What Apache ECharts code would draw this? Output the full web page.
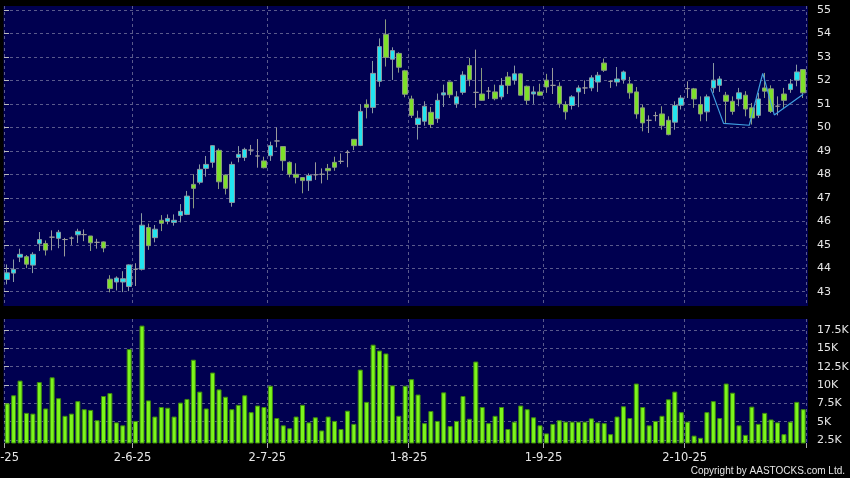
<!DOCTYPE html>
<html><head><meta charset="utf-8">
<script src="https://cdn.jsdelivr.net/npm/echarts@6/dist/echarts.min.js"></script>
<style>html,body{margin:0;padding:0;background:#000;}#c{width:850px;height:478px;}</style>
</head><body><div id="c"></div>
<script>
const dates = [
'2-5-25','6-5-25','7-5-25','8-5-25','9-5-25','12-5-25','13-5-25','14-5-25','15-5-25','16-5-25','19-5-25','20-5-25','21-5-25','22-5-25','23-5-25','26-5-25','27-5-25','28-5-25','29-5-25','30-5-25',
'2-6-25','3-6-25','4-6-25','5-6-25','6-6-25','9-6-25','10-6-25','11-6-25','12-6-25','13-6-25','16-6-25','17-6-25','18-6-25','19-6-25','20-6-25','23-6-25','24-6-25','25-6-25','26-6-25','27-6-25','30-6-25',
'2-7-25','3-7-25','4-7-25','7-7-25','8-7-25','9-7-25','10-7-25','11-7-25','14-7-25','15-7-25','16-7-25','17-7-25','18-7-25','21-7-25','22-7-25','23-7-25','24-7-25','25-7-25','28-7-25','29-7-25','30-7-25','31-7-25',
'1-8-25','4-8-25','5-8-25','6-8-25','7-8-25','8-8-25','11-8-25','12-8-25','13-8-25','14-8-25','15-8-25','18-8-25','19-8-25','20-8-25','21-8-25','22-8-25','25-8-25','26-8-25','27-8-25','28-8-25','29-8-25',
'1-9-25','2-9-25','3-9-25','4-9-25','5-9-25','8-9-25','9-9-25','10-9-25','11-9-25','12-9-25','15-9-25','16-9-25','17-9-25','18-9-25','19-9-25','22-9-25','23-9-25','24-9-25','25-9-25','26-9-25','29-9-25','30-9-25',
'2-10-25','3-10-25','6-10-25','8-10-25','9-10-25','10-10-25','13-10-25','14-10-25','15-10-25','16-10-25','17-10-25','20-10-25','21-10-25','22-10-25','23-10-25','24-10-25','27-10-25','28-10-25','30-10-25'
];
const open = [
43.52,43.79,44.47,44.49,44.13,45.04,45.05,45.32,45.27,45.22,
45.28,45.42,45.43,45.37,45.10,45.12,43.53,43.41,43.41,43.22,
43.95,43.95,45.73,45.30,46.04,45.99,45.95,46.24,46.29,47.57,
47.66,48.25,48.51,49.02,47.97,46.80,48.72,48.72,49.03,48.78,
48.57,48.79,49.42,49.18,48.51,48.00,47.86,47.73,47.98,48.00,
48.25,48.51,48.55,48.93,49.49,49.23,50.98,50.85,51.96,53.96,
52.90,53.15,52.41,51.21,50.12,50.26,50.64,50.37,51.38,51.93,
51.00,51.49,52.63,51.49,51.42,51.54,51.51,51.30,52.15,52.01,
52.28,51.75,51.42,51.51,52.01,51.79,51.75,50.97,50.93,51.51,
51.68,51.68,51.93,52.74,51.96,51.93,52.03,51.85,51.51,50.83,
50.30,50.50,50.57,50.30,50.22,50.94,51.65,51.64,50.97,50.66,
51.68,51.79,51.37,51.11,51.21,51.37,50.83,50.51,51.68,51.64,
50.90,51.42,51.61,52.01,52.46];
const close = [
43.80,43.95,44.59,44.17,44.59,45.22,44.77,45.32,45.53,45.22,
45.28,45.57,45.43,45.08,45.10,44.86,43.13,43.58,43.55,44.14,
43.95,45.83,44.96,45.66,45.91,46.12,46.04,46.42,47.07,47.40,
48.21,48.42,49.22,47.68,47.40,48.42,48.85,49.06,49.03,48.78,
48.28,49.22,49.42,48.58,48.00,47.87,47.73,47.95,47.98,48.00,
48.15,48.30,48.55,48.93,49.22,50.68,50.85,52.30,53.44,52.98,
53.27,52.56,51.41,50.51,50.39,50.90,50.12,51.15,51.47,51.39,
51.30,52.23,52.03,51.49,51.15,51.54,51.22,51.79,51.79,52.28,
51.37,51.15,51.51,51.37,51.72,51.79,51.00,50.66,51.30,51.68,
51.68,52.11,52.22,52.43,51.96,52.06,52.36,51.47,50.57,50.19,
50.30,50.50,50.07,49.69,50.93,51.25,51.65,51.21,50.57,51.30,
52.01,52.06,51.11,50.68,51.47,50.78,50.40,51.21,51.54,50.68,
50.90,51.15,51.85,52.36,51.47];
const low = [
43.31,43.41,44.26,44.00,43.79,44.73,44.54,44.76,44.85,44.50,
44.99,45.07,45.15,44.73,44.83,44.68,42.97,43.05,42.98,43.02,
43.24,43.90,44.78,45.10,45.58,45.87,45.81,45.95,46.26,46.55,
47.57,47.90,48.28,47.37,47.14,46.62,48.51,48.57,48.82,48.28,
48.25,48.57,49.15,48.15,47.87,47.61,47.19,47.29,47.76,47.61,
47.76,48.15,48.44,48.30,49.03,49.20,50.38,50.60,51.73,52.59,
52.02,52.33,51.28,50.40,49.48,50.07,49.97,50.19,50.87,51.25,
50.83,51.39,51.75,50.83,51.13,51.21,51.15,51.18,51.42,51.82,
51.35,50.97,51.00,51.35,51.47,51.42,50.83,50.33,50.76,50.86,
51.42,51.54,51.51,52.36,51.68,51.75,51.86,51.22,50.37,49.83,
49.76,50.26,49.90,49.66,49.90,50.76,51.25,50.83,50.26,50.26,
51.47,51.51,50.19,50.54,50.90,50.47,50.12,50.40,51.25,50.61,
50.51,50.83,51.47,51.75,51.25];
const high = [
44.16,44.37,44.83,44.56,44.68,45.54,45.18,45.61,45.63,45.29,
45.35,45.68,45.65,45.37,45.25,45.14,43.70,43.65,43.87,44.16,
44.21,46.34,45.90,45.84,46.26,46.29,46.29,46.73,47.29,48.00,
48.42,48.78,49.24,49.10,48.00,48.54,49.20,49.13,49.25,49.50,
48.75,49.39,50.00,49.20,48.55,48.47,47.88,48.04,48.51,48.25,
48.44,48.75,48.89,49.03,49.50,50.99,51.19,52.83,53.79,54.60,
53.41,53.20,52.45,51.35,50.71,51.11,50.87,51.44,51.82,51.95,
51.54,52.39,52.96,53.31,52.53,51.72,51.82,52.10,52.36,52.63,
52.32,51.78,51.75,51.86,52.28,52.53,51.92,51.11,51.37,51.79,
52.00,52.22,52.36,52.93,52.00,52.57,52.42,52.15,51.72,50.97,
50.51,50.66,50.90,50.47,51.11,51.37,51.96,51.68,51.32,51.40,
52.74,52.18,51.51,51.32,51.68,51.54,51.04,51.47,52.32,51.79,
51.32,51.68,52.06,52.67,52.48];
const volume = [
7500,8600,10600,6200,6100,10400,6800,11050,8200,5800,
6100,7800,6700,6600,5200,8500,8900,4900,4500,14900,
5100,18100,7900,5700,7000,6900,5700,7600,8100,13450,
9100,6800,11700,9400,8400,6700,7300,8600,6300,7200,
7000,9900,5500,4500,4100,5700,7300,4900,5600,3800,
5700,5100,4000,6500,4700,12100,7700,15500,14700,14300,
9950,5800,9900,10800,8700,4800,6450,5100,9000,4400,
5100,8500,5400,13200,7000,4800,5800,7000,4000,5000,
7200,6700,5600,4500,3400,4700,5200,5000,5000,5000,
5000,5450,4900,4800,3300,5700,7100,5500,10200,7000,
4500,5100,5800,8050,9100,6300,5000,3100,2800,6300,
7800,5500,10200,8950,4500,3200,7050,4700,6200,5300,
4900,3300,5000,7700,6700];
// pattern line vertices (category position, price)
const lineX = [109.6, 111.6, 115.6, 117.7, 119.5, 124.0];
const lineY = [51.66, 50.17, 50.09, 52.30, 50.53, 51.41];
const priceMin = 43, priceMax = 55, priceStep = 1;
const volMin = 2500, volMax = 17500, volStep = 2500;

const BG = '#000050', GRID = '#5a5a8c', TXT = '#e6e6e6', FONT = 'DejaVu Sans';
const monthStart = (i) => i === 0 || dates[i].split('-')[1] !== dates[i - 1].split('-')[1];
const labelAt = (i) => i > 0 && monthStart(i);
const dash = {color: GRID, type: [3, 3], width: 1};
const hidden = (g) => ({gridIndex: g, type: 'value', show: false, min: 0, max: 1});
const G = (o) => Object.assign({outerBoundsMode: 'none', containLabel: false}, o);

const chart = echarts.init(document.getElementById('c'), null, {renderer: 'canvas'});
chart.setOption({
  backgroundColor: '#000',
  animation: false,
  grid: [
    G({left: 4, top: 6, width: 802.4, height: 300}),
    G({left: 4, right: 42, top: 10, height: 281.7}),
    G({left: 4, top: 319, width: 802.4, height: 124}),
    G({left: 4, right: 42, top: 330, height: 110}),
    G({left: 3.5, right: 42, top: 6, height: 300, show: true, backgroundColor: BG, borderWidth: 0}),
    G({left: 3.5, right: 42, top: 319, height: 124, show: true, backgroundColor: BG, borderWidth: 0})
  ],
  xAxis: [
    {gridIndex: 0, type: 'category', data: dates, axisLine: {show: false}, axisTick: {show: false},
     axisLabel: {show: false}, splitLine: {show: true, interval: monthStart, lineStyle: dash}},
    {gridIndex: 0, type: 'value', show: false, min: -0.5, max: dates.length - 0.5},
    hidden(1),
    {gridIndex: 2, type: 'category', data: dates, axisLine: {show: false},
     axisTick: {show: true, interval: monthStart, length: 5, lineStyle: {color: '#aaaaaa'}},
     axisLabel: {interval: labelAt, color: TXT, fontSize: 11.5, fontFamily: FONT, margin: 9,
                 padding: [0, 6, 0, 0]},
     splitLine: {show: true, interval: monthStart, lineStyle: dash}},
    hidden(3), hidden(4), hidden(5)
  ],
  yAxis: [
    {gridIndex: 0, type: 'value', show: false, min: 42.388, max: 55.170},
    {gridIndex: 1, type: 'value', position: 'right', min: priceMin, max: priceMax, interval: priceStep,
     axisLine: {show: false}, axisTick: {show: true, length: 5, lineStyle: {color: '#bbbbbb'}},
     axisLabel: {color: TXT, fontSize: 11, fontFamily: FONT, margin: 9},
     splitLine: {show: true, lineStyle: dash}},
    {gridIndex: 2, type: 'value', show: false, min: 2091, max: 19000},
    {gridIndex: 3, type: 'value', position: 'right', min: volMin, max: volMax, interval: volStep,
     axisLine: {show: false}, axisTick: {show: true, length: 5, lineStyle: {color: '#bbbbbb'}},
     axisLabel: {color: TXT, fontSize: 11, fontFamily: FONT, margin: 9, formatter: v => (v / 1000) + 'K'},
     splitLine: {show: true, lineStyle: dash}},
    hidden(4), hidden(5)
  ],
  series: [
    {type: 'candlestick', xAxisIndex: 0, yAxisIndex: 0, barWidth: 5,
     data: dates.map((d, i) => [open[i], close[i], low[i], high[i]]),
     itemStyle: {color: '#22E4F0', color0: '#7EE02A', borderColor: '#8a9aa2', borderColor0: '#8a9a80',
                 borderColorDoji: '#9a9a9a', borderWidth: 1}},
    {type: 'line', xAxisIndex: 1, yAxisIndex: 0, showSymbol: false, silent: true,
     data: lineX.map((x, i) => [x, lineY[i]]),
     lineStyle: {color: '#3f9fe0', width: 1.2}},
    {type: 'bar', xAxisIndex: 3, yAxisIndex: 2, barWidth: 5, data: volume,
     itemStyle: {color: '#7CF51C', borderColor: '#3E8A0E', borderWidth: 1}}
  ],
  graphic: [
    {type: 'text', x: 19, y: 458,
     style: {text: dates[0], fill: TXT, font: '11.5px "DejaVu Sans"', textAlign: 'right', textVerticalAlign: 'middle'}},
    {type: 'text', right: 5, top: 466,
     style: {text: 'Copyright by AASTOCKS.com Ltd.', fill: TXT, font: '10px "Liberation Sans"'}}
  ]
});
</script></body></html>
